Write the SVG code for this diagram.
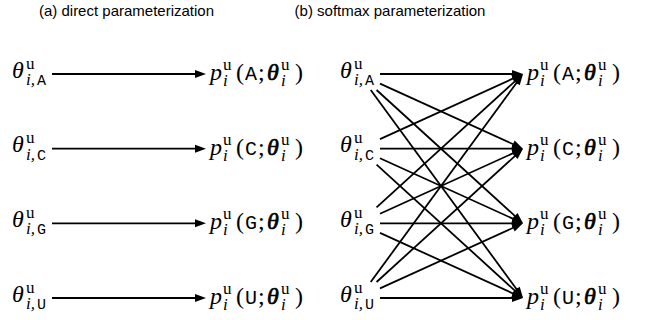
<svg xmlns="http://www.w3.org/2000/svg" width="650" height="320" viewBox="0 0 650 320">
<rect x="0" y="0" width="650" height="320" fill="#fff"/>
<text x="126.5" y="16" font-family="Liberation Sans" font-size="15" text-anchor="middle">(a) direct parameterization</text>
<text x="390" y="16" font-family="Liberation Sans" font-size="15" text-anchor="middle">(b) softmax parameterization</text>

<g id="connectors">
<g stroke="#000" stroke-width="1.8" fill="none">
<line x1="52" y1="74" x2="201" y2="74"/>
<line x1="52" y1="148.7" x2="201" y2="148.7"/>
<line x1="52" y1="223.3" x2="201" y2="223.3"/>
<line x1="52" y1="298" x2="201" y2="298"/>
<line x1="380" y1="74" x2="518" y2="74"/>
<line x1="380" y1="148.7" x2="518" y2="148.7"/>
<line x1="380" y1="223.3" x2="518" y2="223.3"/>
<line x1="380" y1="298" x2="518" y2="298"/>
<line x1="380" y1="83.56" x2="519.36" y2="147.04"/>
<line x1="376.57" y1="90" x2="520.04" y2="220.61"/>
<line x1="370.71" y1="90" x2="520.64" y2="294.77"/>
<line x1="380" y1="139.14" x2="519.36" y2="75.66"/>
<line x1="380" y1="158.26" x2="519.36" y2="221.64"/>
<line x1="376.57" y1="164.7" x2="520.04" y2="295.31"/>
<line x1="376.57" y1="207.3" x2="520.04" y2="76.69"/>
<line x1="380" y1="213.74" x2="519.36" y2="150.36"/>
<line x1="380" y1="232.86" x2="519.36" y2="296.34"/>
<line x1="370.71" y1="282" x2="520.64" y2="77.23"/>
<line x1="376.57" y1="282" x2="520.04" y2="151.39"/>
<line x1="380" y1="288.44" x2="519.36" y2="224.96"/>
</g>
<g fill="#000" stroke="none">
<polygon points="206,74 195,70 195,78"/>
<polygon points="206,148.7 195,144.7 195,152.7"/>
<polygon points="206,223.3 195,219.3 195,227.3"/>
<polygon points="206,298 195,294 195,302"/>
<polygon points="523,74 512,70 512,78"/>
<polygon points="523,148.7 512,144.7 512,152.7"/>
<polygon points="523,223.3 512,219.3 512,227.3"/>
<polygon points="523,298 512,294 512,302"/>
<polygon points="523,74 514.65,82.2 511.33,74.92"/>
<polygon points="523,74 512.18,78.45 517.56,84.37"/>
<polygon points="523,74 513.27,80.52 519.73,85.24"/>
<polygon points="523,148.7 511.33,147.78 514.65,140.5"/>
<polygon points="523,148.7 514.65,156.9 511.33,149.62"/>
<polygon points="523,148.7 512.18,153.15 517.56,159.07"/>
<polygon points="523,223.3 512.18,218.85 517.56,212.93"/>
<polygon points="523,223.3 511.33,222.38 514.65,215.1"/>
<polygon points="523,223.3 514.65,231.5 511.33,224.22"/>
<polygon points="523,298 513.27,291.48 519.73,286.76"/>
<polygon points="523,298 512.18,293.55 517.56,287.63"/>
<polygon points="523,298 511.33,297.08 514.65,289.8"/>
</g>
</g>

<g id="a-theta-A">
<text x="12" y="77.5" font-family="Liberation Serif" font-size="24" font-style="italic">θ</text>
<text x="26" y="68.5" font-family="Liberation Serif" font-size="17">u</text>
<text x="26" y="85" font-family="Liberation Serif" font-size="17" font-style="italic">i,</text>
<text x="37" y="85" font-family="Liberation Mono" font-size="15">A</text>
</g>
<g id="a-theta-C">
<text x="12" y="152.2" font-family="Liberation Serif" font-size="24" font-style="italic">θ</text>
<text x="26" y="143.2" font-family="Liberation Serif" font-size="17">u</text>
<text x="26" y="159.7" font-family="Liberation Serif" font-size="17" font-style="italic">i,</text>
<text x="37" y="159.7" font-family="Liberation Mono" font-size="15">C</text>
</g>
<g id="a-theta-G">
<text x="12" y="226.8" font-family="Liberation Serif" font-size="24" font-style="italic">θ</text>
<text x="26" y="217.8" font-family="Liberation Serif" font-size="17">u</text>
<text x="26" y="234.3" font-family="Liberation Serif" font-size="17" font-style="italic">i,</text>
<text x="37" y="234.3" font-family="Liberation Mono" font-size="15">G</text>
</g>
<g id="a-theta-U">
<text x="12" y="301.5" font-family="Liberation Serif" font-size="24" font-style="italic">θ</text>
<text x="26" y="292.5" font-family="Liberation Serif" font-size="17">u</text>
<text x="26" y="309" font-family="Liberation Serif" font-size="17" font-style="italic">i,</text>
<text x="37" y="309" font-family="Liberation Mono" font-size="15">U</text>
</g>

<g id="a-p-A">
<text x="210" y="80" font-family="Liberation Serif" font-size="24" font-style="italic">p</text>
<text x="223" y="70" font-family="Liberation Serif" font-size="17">u</text>
<text x="223" y="86" font-family="Liberation Serif" font-size="17" font-style="italic">i</text>
<text x="236" y="80" font-family="Liberation Serif" font-size="24">(</text>
<text x="245" y="80" font-family="Liberation Mono" font-size="20">A</text>
<text x="258" y="80" font-family="Liberation Serif" font-size="24">;</text>
<text x="267" y="80" font-family="Liberation Serif" font-size="24" font-style="italic" stroke="#000" stroke-width="0.7">θ</text>
<text x="281" y="70" font-family="Liberation Serif" font-size="17">u</text>
<text x="281" y="86" font-family="Liberation Serif" font-size="17" font-style="italic">i</text>
<text x="295" y="80" font-family="Liberation Serif" font-size="24">)</text>
</g>
<g id="a-p-C">
<text x="210" y="154.7" font-family="Liberation Serif" font-size="24" font-style="italic">p</text>
<text x="223" y="144.7" font-family="Liberation Serif" font-size="17">u</text>
<text x="223" y="160.7" font-family="Liberation Serif" font-size="17" font-style="italic">i</text>
<text x="236" y="154.7" font-family="Liberation Serif" font-size="24">(</text>
<text x="245" y="154.7" font-family="Liberation Mono" font-size="20">C</text>
<text x="258" y="154.7" font-family="Liberation Serif" font-size="24">;</text>
<text x="267" y="154.7" font-family="Liberation Serif" font-size="24" font-style="italic" stroke="#000" stroke-width="0.7">θ</text>
<text x="281" y="144.7" font-family="Liberation Serif" font-size="17">u</text>
<text x="281" y="160.7" font-family="Liberation Serif" font-size="17" font-style="italic">i</text>
<text x="295" y="154.7" font-family="Liberation Serif" font-size="24">)</text>
</g>
<g id="a-p-G">
<text x="210" y="229.3" font-family="Liberation Serif" font-size="24" font-style="italic">p</text>
<text x="223" y="219.3" font-family="Liberation Serif" font-size="17">u</text>
<text x="223" y="235.3" font-family="Liberation Serif" font-size="17" font-style="italic">i</text>
<text x="236" y="229.3" font-family="Liberation Serif" font-size="24">(</text>
<text x="245" y="229.3" font-family="Liberation Mono" font-size="20">G</text>
<text x="258" y="229.3" font-family="Liberation Serif" font-size="24">;</text>
<text x="267" y="229.3" font-family="Liberation Serif" font-size="24" font-style="italic" stroke="#000" stroke-width="0.7">θ</text>
<text x="281" y="219.3" font-family="Liberation Serif" font-size="17">u</text>
<text x="281" y="235.3" font-family="Liberation Serif" font-size="17" font-style="italic">i</text>
<text x="295" y="229.3" font-family="Liberation Serif" font-size="24">)</text>
</g>
<g id="a-p-U">
<text x="210" y="304" font-family="Liberation Serif" font-size="24" font-style="italic">p</text>
<text x="223" y="294" font-family="Liberation Serif" font-size="17">u</text>
<text x="223" y="310" font-family="Liberation Serif" font-size="17" font-style="italic">i</text>
<text x="236" y="304" font-family="Liberation Serif" font-size="24">(</text>
<text x="245" y="304" font-family="Liberation Mono" font-size="20">U</text>
<text x="258" y="304" font-family="Liberation Serif" font-size="24">;</text>
<text x="267" y="304" font-family="Liberation Serif" font-size="24" font-style="italic" stroke="#000" stroke-width="0.7">θ</text>
<text x="281" y="294" font-family="Liberation Serif" font-size="17">u</text>
<text x="281" y="310" font-family="Liberation Serif" font-size="17" font-style="italic">i</text>
<text x="295" y="304" font-family="Liberation Serif" font-size="24">)</text>
</g>

<g id="b-theta-A">
<text x="340" y="77.5" font-family="Liberation Serif" font-size="24" font-style="italic">θ</text>
<text x="354" y="68.5" font-family="Liberation Serif" font-size="17">u</text>
<text x="354" y="85" font-family="Liberation Serif" font-size="17" font-style="italic">i,</text>
<text x="365" y="85" font-family="Liberation Mono" font-size="15">A</text>
</g>
<g id="b-theta-C">
<text x="340" y="152.2" font-family="Liberation Serif" font-size="24" font-style="italic">θ</text>
<text x="354" y="143.2" font-family="Liberation Serif" font-size="17">u</text>
<text x="354" y="159.7" font-family="Liberation Serif" font-size="17" font-style="italic">i,</text>
<text x="365" y="159.7" font-family="Liberation Mono" font-size="15">C</text>
</g>
<g id="b-theta-G">
<text x="340" y="226.8" font-family="Liberation Serif" font-size="24" font-style="italic">θ</text>
<text x="354" y="217.8" font-family="Liberation Serif" font-size="17">u</text>
<text x="354" y="234.3" font-family="Liberation Serif" font-size="17" font-style="italic">i,</text>
<text x="365" y="234.3" font-family="Liberation Mono" font-size="15">G</text>
</g>
<g id="b-theta-U">
<text x="340" y="301.5" font-family="Liberation Serif" font-size="24" font-style="italic">θ</text>
<text x="354" y="292.5" font-family="Liberation Serif" font-size="17">u</text>
<text x="354" y="309" font-family="Liberation Serif" font-size="17" font-style="italic">i,</text>
<text x="365" y="309" font-family="Liberation Mono" font-size="15">U</text>
</g>

<g id="b-p-A">
<text x="527" y="80" font-family="Liberation Serif" font-size="24" font-style="italic">p</text>
<text x="540" y="70" font-family="Liberation Serif" font-size="17">u</text>
<text x="540" y="86" font-family="Liberation Serif" font-size="17" font-style="italic">i</text>
<text x="553" y="80" font-family="Liberation Serif" font-size="24">(</text>
<text x="562" y="80" font-family="Liberation Mono" font-size="20">A</text>
<text x="575" y="80" font-family="Liberation Serif" font-size="24">;</text>
<text x="584" y="80" font-family="Liberation Serif" font-size="24" font-style="italic" stroke="#000" stroke-width="0.7">θ</text>
<text x="598" y="70" font-family="Liberation Serif" font-size="17">u</text>
<text x="598" y="86" font-family="Liberation Serif" font-size="17" font-style="italic">i</text>
<text x="612" y="80" font-family="Liberation Serif" font-size="24">)</text>
</g>
<g id="b-p-C">
<text x="527" y="154.7" font-family="Liberation Serif" font-size="24" font-style="italic">p</text>
<text x="540" y="144.7" font-family="Liberation Serif" font-size="17">u</text>
<text x="540" y="160.7" font-family="Liberation Serif" font-size="17" font-style="italic">i</text>
<text x="553" y="154.7" font-family="Liberation Serif" font-size="24">(</text>
<text x="562" y="154.7" font-family="Liberation Mono" font-size="20">C</text>
<text x="575" y="154.7" font-family="Liberation Serif" font-size="24">;</text>
<text x="584" y="154.7" font-family="Liberation Serif" font-size="24" font-style="italic" stroke="#000" stroke-width="0.7">θ</text>
<text x="598" y="144.7" font-family="Liberation Serif" font-size="17">u</text>
<text x="598" y="160.7" font-family="Liberation Serif" font-size="17" font-style="italic">i</text>
<text x="612" y="154.7" font-family="Liberation Serif" font-size="24">)</text>
</g>
<g id="b-p-G">
<text x="527" y="229.3" font-family="Liberation Serif" font-size="24" font-style="italic">p</text>
<text x="540" y="219.3" font-family="Liberation Serif" font-size="17">u</text>
<text x="540" y="235.3" font-family="Liberation Serif" font-size="17" font-style="italic">i</text>
<text x="553" y="229.3" font-family="Liberation Serif" font-size="24">(</text>
<text x="562" y="229.3" font-family="Liberation Mono" font-size="20">G</text>
<text x="575" y="229.3" font-family="Liberation Serif" font-size="24">;</text>
<text x="584" y="229.3" font-family="Liberation Serif" font-size="24" font-style="italic" stroke="#000" stroke-width="0.7">θ</text>
<text x="598" y="219.3" font-family="Liberation Serif" font-size="17">u</text>
<text x="598" y="235.3" font-family="Liberation Serif" font-size="17" font-style="italic">i</text>
<text x="612" y="229.3" font-family="Liberation Serif" font-size="24">)</text>
</g>
<g id="b-p-U">
<text x="527" y="304" font-family="Liberation Serif" font-size="24" font-style="italic">p</text>
<text x="540" y="294" font-family="Liberation Serif" font-size="17">u</text>
<text x="540" y="310" font-family="Liberation Serif" font-size="17" font-style="italic">i</text>
<text x="553" y="304" font-family="Liberation Serif" font-size="24">(</text>
<text x="562" y="304" font-family="Liberation Mono" font-size="20">U</text>
<text x="575" y="304" font-family="Liberation Serif" font-size="24">;</text>
<text x="584" y="304" font-family="Liberation Serif" font-size="24" font-style="italic" stroke="#000" stroke-width="0.7">θ</text>
<text x="598" y="294" font-family="Liberation Serif" font-size="17">u</text>
<text x="598" y="310" font-family="Liberation Serif" font-size="17" font-style="italic">i</text>
<text x="612" y="304" font-family="Liberation Serif" font-size="24">)</text>
</g>
</svg>
